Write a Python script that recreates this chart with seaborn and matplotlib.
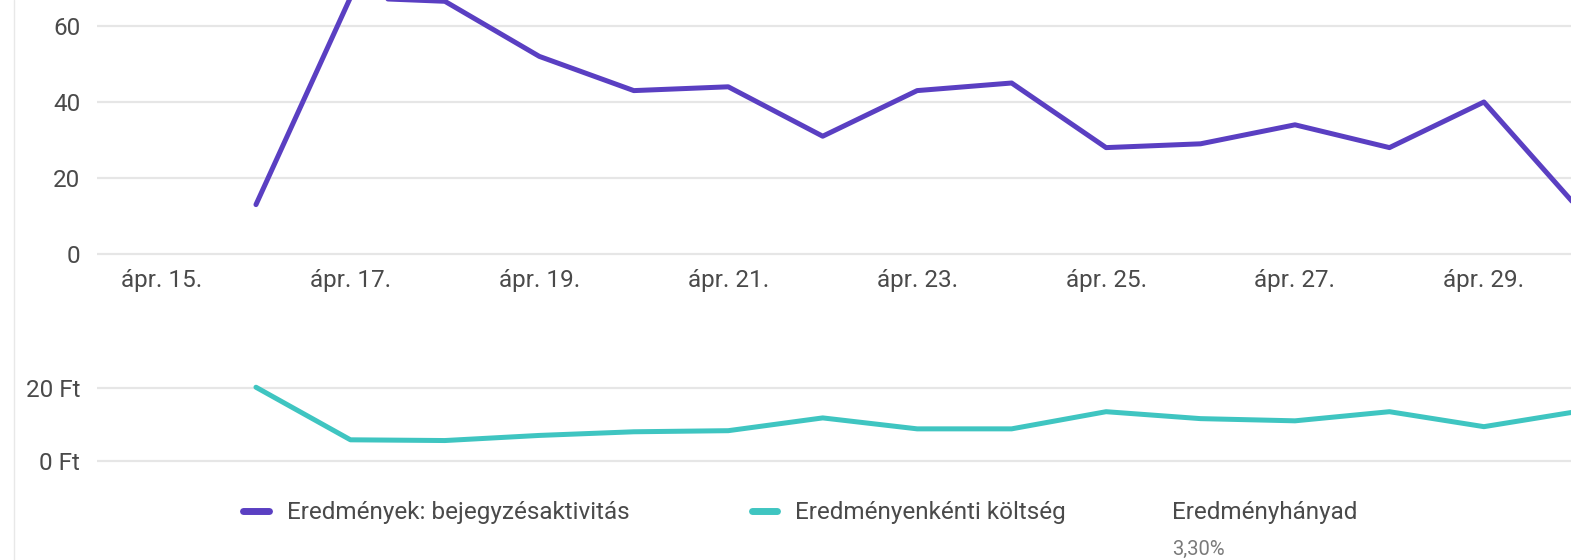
import numpy as np
import pandas as pd
import matplotlib.pyplot as plt
import seaborn as sns
from matplotlib.lines import Line2D

# április napjai és a két sorozat
days = list(range(16, 31))
results = [13, 67.5, 66.5, 52, 43, 44, 31, 43, 45, 28, 29, 34, 28, 40, 12]
cost_per_result = [20.2, 5.8, 5.6, 7.0, 8.0, 8.3, 11.8, 8.8, 8.8, 13.5, 11.6, 11.0, 13.5, 9.4, 13.6]

tick_days = [15, 17, 19, 21, 23, 25, 27, 29]
tick_labels = [f"ápr. {d}." for d in tick_days]
top_ticks = [0, 20, 40, 60]
bottom_ticks = [0, 20]
bottom_labels = ["0 Ft", "20 Ft"]
legend_labels = ["Eredmények: bejegyzésaktivitás", "Eredményenkénti költség"]
rate_label = "Eredményhányad"
rate_value = "3,30%"

df = pd.DataFrame({"nap": days, "eredmeny": results, "koltseg": cost_per_result})

PURPLE = "#5a3fc2"
TEAL = "#3fc5c1"
GRID = "#e6e6e6"
TXT = "#4a4a4a"
FS = 17.5

sns.set_theme(style="whitegrid")
plt.rcParams["font.family"] = ["Roboto", "DejaVu Sans"]

W, H = 1571, 560
fig = plt.figure(figsize=(W / 100, H / 100), dpi=100)
left = 97 / W
ax1 = fig.add_axes([left, 0.5396, 1 - left, 0.4604])
ax2 = fig.add_axes([left, 0.1703, 1 - left, 0.1695])

sns.lineplot(data=df, x="nap", y="eredmeny", ax=ax1, color=PURPLE,
             linewidth=3.6, legend=False)
sns.lineplot(data=df, x="nap", y="koltseg", ax=ax2, color=TEAL,
             linewidth=3.6, legend=False)

xlim = (14.317, 29.922)
for ax in (ax1, ax2):
    ax.set_xlim(*xlim)
    ax.set_xlabel("")
    ax.set_ylabel("")
    ax.set_facecolor("white")
    ax.xaxis.grid(False)
    ax.yaxis.grid(True, color=GRID, linewidth=1.6)
    for s in ax.spines.values():
        s.set_visible(False)
    ax.tick_params(length=0, labelsize=FS, labelcolor=TXT)
    ax.tick_params(axis="y", pad=12)

ax1.set_ylim(-1, 66.84)
ax1.set_yticks(top_ticks)
ax1.set_xticks(tick_days, tick_labels)
ax1.tick_params(axis="x", pad=8)

ax2.set_ylim(-1, 25)
ax2.set_yticks(bottom_ticks, bottom_labels)
ax2.set_xticks([])

# jelmagyarázat
for line, lab, x0 in [(ax1.get_lines()[0], legend_labels[0], 243.5),
                      (ax2.get_lines()[0], legend_labels[1], 751.5)]:
    leg = fig.legend([line], [lab], loc="center left",
                     bbox_to_anchor=(x0 / W, 1 - 513 / H), frameon=False,
                     borderpad=0, borderaxespad=0, handlelength=1.03,
                     handletextpad=0.74, fontsize=FS, labelcolor=TXT)
    for h in leg.get_lines():
        h.set_linewidth(5)
        h.set_solid_capstyle("round")

fig.text(1172 / W, 1 - 512 / H, rate_label, ha="left", va="center",
         fontsize=FS, color=TXT)
fig.text(1172 / W, 1 - 549 / H, rate_value, ha="left", va="center",
         fontsize=14.5, color="#7a7a7a")

# bal oldali keret
fig.add_artist(Line2D([14 / W, 14 / W], [0, 1], transform=fig.transFigure,
                      color="#e8e8e8", linewidth=1))

fig.savefig("out.png", dpi=100, facecolor="white")
